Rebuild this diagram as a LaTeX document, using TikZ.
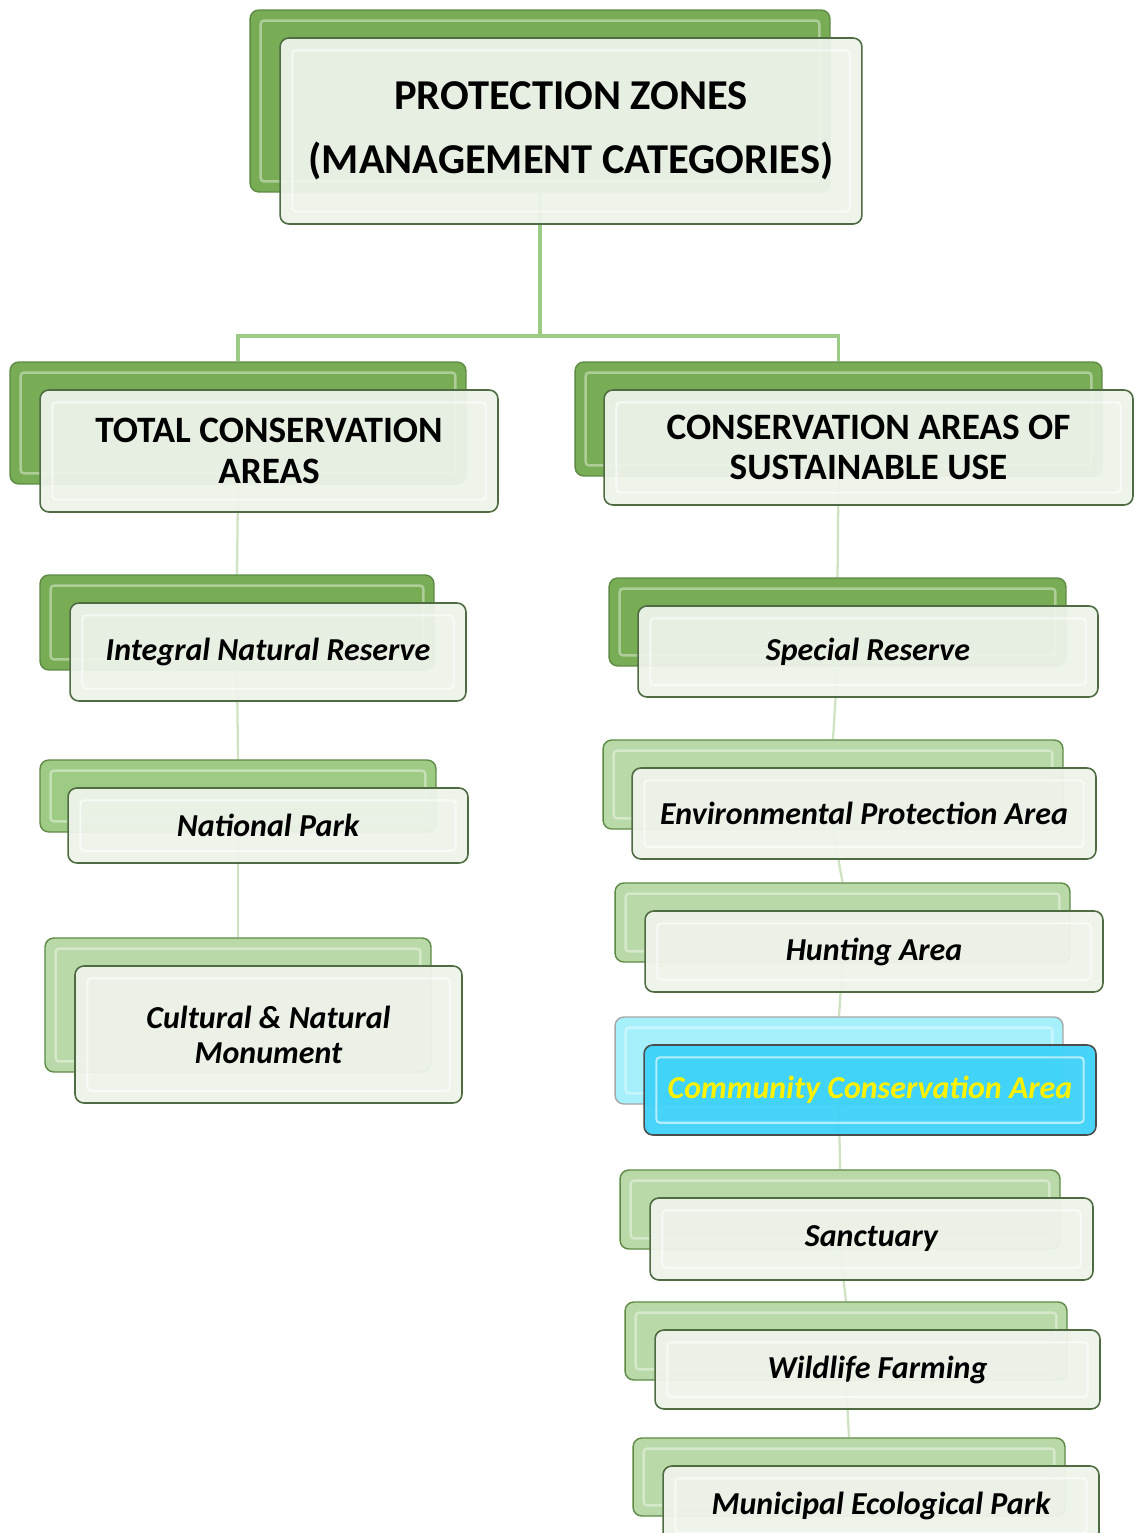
\documentclass[tikz,border=0pt]{standalone}
\usepackage{fontspec}
\setmainfont{Carlito}
\usepackage{tikz}
\usetikzlibrary{calc}
\pgfdeclarelayer{bg}
\pgfsetlayers{bg,main}

\definecolor{GreenDark}{HTML}{78AD56}
\definecolor{GreenMid}{HTML}{9ECB84}
\definecolor{GreenLight}{HTML}{B9D9A8}
\definecolor{GreenEdge}{HTML}{5E8A45}
\definecolor{FrontFill}{HTML}{EEF3EA}
\definecolor{FrontEdge}{HTML}{4F6B42}
\definecolor{SkyBack}{HTML}{A6F0FB}
\definecolor{SkyFront}{HTML}{3DD2F8}
\definecolor{TrunkLine}{HTML}{9BCB85}
\definecolor{BranchLine}{HTML}{CFE3C3}

\begin{document}
\begin{tikzpicture}[x=0.02cm, y=-0.02cm,
	back/.style={rounded corners=5pt, draw=GreenEdge, line width=0.8pt, fill=#1, inner sep=0pt,
		path picture={\draw[white, opacity=0.4, line width=1.4pt, rounded corners=2pt]
			([shift={(6pt,-6pt)}]path picture bounding box.north west) rectangle
			([shift={(-6pt,6pt)}]path picture bounding box.south east);}},
	front/.style={rounded corners=5pt, draw=FrontEdge, line width=0.9pt, fill=FrontFill,
		fill opacity=0.95, text opacity=1, inner sep=0pt, align=center,
		path picture={\draw[white, opacity=0.6, line width=1.2pt, rounded corners=2pt]
			([shift={(7pt,-7pt)}]path picture bounding box.north west) rectangle
			([shift={(-7pt,7pt)}]path picture bounding box.south east);}},
	title/.style={font=\fontsize{24.2}{36.3}\selectfont\bfseries},
	group/.style={font=\fontsize{21.2}{23.2}\selectfont\bfseries},
	zone/.style={font=\fontsize{18.2}{20}\selectfont\bfseries\itshape},
	trunk/.style={draw=TrunkLine, line width=1.8pt},
	branch/.style={draw=BranchLine, line width=1.3pt}]

	\useasboundingbox (0,0) rectangle (1134,1533);

	% top box
	\node[back=GreenDark, minimum width=11.6cm, minimum height=3.64cm] (zones-b) at (540,101) {};
	\node[front, title, minimum width=11.64cm, minimum height=3.72cm] (zones) at (571,131) {PROTECTION ZONES\\(MANAGEMENT CATEGORIES)};

	% left column
	\node[back=GreenDark, minimum width=9.12cm, minimum height=2.44cm] (total-b) at (238,423) {};
	\node[front, group, minimum width=9.16cm, minimum height=2.44cm] (total) at (269,451) {TOTAL CONSERVATION\\AREAS};

	\node[back=GreenDark, minimum width=7.88cm, minimum height=1.9cm] (integral-b) at (237,622.5) {};
	\node[front, zone, minimum width=7.92cm, minimum height=1.96cm] (integral) at (268,652) {Integral Natural Reserve};

	\node[back=GreenMid, minimum width=7.92cm, minimum height=1.44cm] (park-b) at (238,796) {};
	\node[front, zone, minimum width=8cm, minimum height=1.5cm] (park) at (268,825.5) {National Park};

	\node[back=GreenLight, minimum width=7.72cm, minimum height=2.68cm] (monument-b) at (238,1005) {};
	\node[front, zone, minimum width=7.74cm, minimum height=2.74cm] (monument) at (268.5,1034.5) {Cultural \& Natural\\Monument};

	% right column
	\node[back=GreenDark, minimum width=10.54cm, minimum height=2.28cm] (sustain-b) at (838.5,419) {};
	\node[front, group, minimum width=10.58cm, minimum height=2.3cm] (sustain) at (868.5,447.5) {CONSERVATION AREAS OF\\SUSTAINABLE USE};

	\node[back=GreenDark, minimum width=9.14cm, minimum height=1.76cm] (special-b) at (837.5,622) {};
	\node[front, zone, minimum width=9.2cm, minimum height=1.82cm] (special) at (868,651.5) {Special Reserve};

	\node[back=GreenLight, minimum width=9.2cm, minimum height=1.78cm] (environ-b) at (833,784.5) {};
	\node[front, zone, minimum width=9.28cm, minimum height=1.82cm] (environ) at (864,813.5) {Environmental Protection Area};

	\node[back=GreenLight, minimum width=9.1cm, minimum height=1.58cm] (hunting-b) at (842.5,922.5) {};
	\node[front, zone, minimum width=9.16cm, minimum height=1.62cm] (hunting) at (874,951.5) {Hunting Area};

	\node[back=SkyBack, draw=gray!70, minimum width=8.96cm, minimum height=1.74cm] (community-b) at (839,1060.5) {};
	\node[front, zone, fill=SkyFront, draw=gray!60!black, text=yellow, minimum width=9.04cm, minimum height=1.8cm] (community) at (870,1090) {Community Conservation Area};

	\node[back=GreenLight, minimum width=8.8cm, minimum height=1.58cm] (sanctuary-b) at (840,1209.5) {};
	\node[front, zone, minimum width=8.86cm, minimum height=1.64cm] (sanctuary) at (871.5,1239) {Sanctuary};

	\node[back=GreenLight, minimum width=8.84cm, minimum height=1.56cm] (farming-b) at (846,1341) {};
	\node[front, zone, minimum width=8.9cm, minimum height=1.58cm] (farming) at (877.5,1369.5) {Wildlife Farming};

	\node[back=GreenLight, minimum width=8.64cm, minimum height=1.56cm] (municipal-b) at (849,1477) {};
	\node[front, zone, minimum width=8.72cm, minimum height=1.58cm] (municipal) at (881,1505.5) {Municipal Ecological Park};

	% connectors
	\coordinate (split) at (540,336);
	\begin{pgfonlayer}{bg}
		\draw[trunk] (zones-b.south) -- (split);
		\draw[trunk] (split) -| (total-b.north);
		\draw[trunk] (split) -| (sustain-b.north);
		\draw[branch] (total-b.south) -- (integral-b.north);
		\draw[branch] (integral-b.south) -- (park-b.north);
		\draw[branch] (park-b.south) -- (monument-b.north);
		\draw[branch] (sustain-b.south) -- (special-b.north);
		\draw[branch] (special-b.south) -- (environ-b.north);
		\draw[branch] (environ-b.south) -- (hunting-b.north);
		\draw[branch] (hunting-b.south) -- (community-b.north);
		\draw[branch] (community-b.south) -- (sanctuary-b.north);
		\draw[branch] (sanctuary-b.south) -- (farming-b.north);
		\draw[branch] (farming-b.south) -- (municipal-b.north);
	\end{pgfonlayer}
\end{tikzpicture}
\end{document}
